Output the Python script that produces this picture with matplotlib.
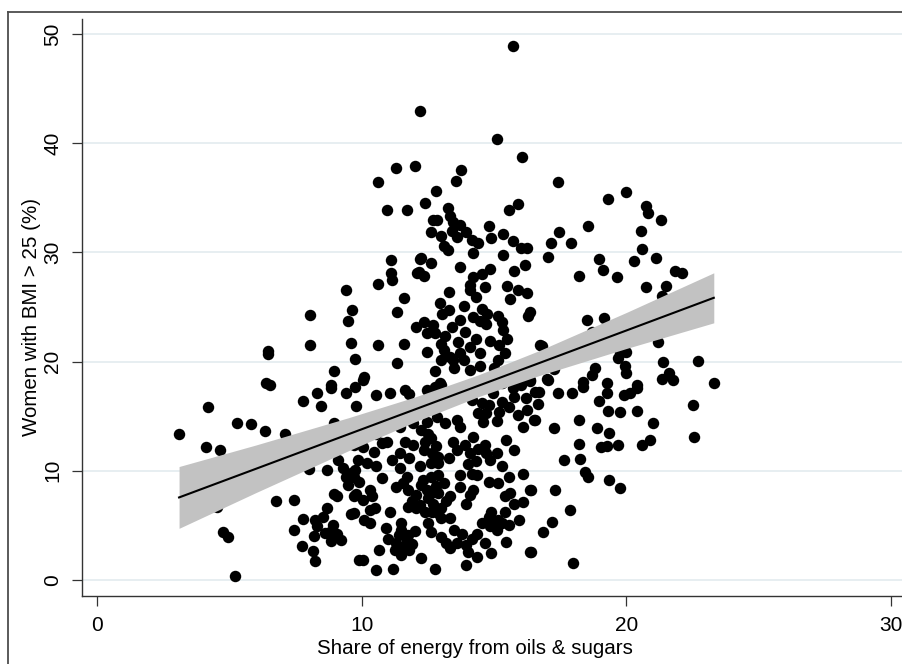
import matplotlib.pyplot as plt
from matplotlib.lines import Line2D

plt.rcParams['font.family'] = ['Liberation Sans', 'DejaVu Sans']

# (share of energy from oils & sugars, women with BMI > 25 %)
left_low = [
    (3.1, 13.4), (4.2, 15.8), (4.1, 12.2), (4.65, 11.9), (5.3, 14.35), (5.8, 14.25),
    (6.35, 13.6), (7.1, 13.4), (6.55, 17.9), (6.4, 18.0), (7.8, 16.4), (8.3, 17.15),
    (8.85, 17.55), (9.4, 17.1), (8.45, 15.9), (9.8, 15.9), (8.95, 14.35), (4.75, 4.4),
    (4.95, 3.9), (5.2, 0.4), (6.75, 7.2), (7.45, 7.35), (4.55, 6.7), (8.0, 10.2),
    (8.7, 10.1), (9.1, 11.0), (9.4, 9.45), (9.6, 9.8), (9.75, 10.1), (8.95, 7.9),
    (9.05, 7.7), (9.8, 7.9), (9.6, 6.0), (8.7, 6.6), (8.55, 5.8), (7.8, 5.55),
    (7.45, 4.6), (8.25, 5.5), (8.3, 4.9), (8.8, 4.4), (9.05, 4.2), (9.2, 3.65),
    (8.85, 3.6), (8.2, 4.0), (7.75, 3.15), (8.15, 2.7), (8.25, 1.75), (9.9, 1.85),
    (9.75, 17.7), (6.45, 21.0), (6.45, 20.7), (9.3, 10.3), (9.9, 9.0), (9.5, 8.7),
    (8.6, 4.3), (8.9, 5.0),
]

left_high = [
    (10.95, 33.9), (11.7, 33.9), (11.1, 29.3), (11.1, 28.1), (11.15, 27.5), (10.6, 27.1),
    (9.4, 26.6), (11.6, 25.85), (9.65, 24.7), (9.5, 23.75), (8.05, 24.3), (11.35, 24.5),
    (12.05, 23.2), (12.1, 28.1), (12.2, 29.4), (9.6, 21.7), (10.6, 21.5), (11.6, 21.65),
    (8.05, 21.5), (9.75, 20.2), (11.35, 19.9), (8.95, 19.1), (10.1, 18.6), (8.85, 17.9),
]

top = [
    (15.7, 48.9), (12.2, 42.9), (15.1, 40.4), (16.05, 38.7), (11.3, 37.7), (12.0, 37.9),
    (13.75, 37.5), (10.6, 36.4), (13.55, 36.5), (17.4, 36.4),
]

middle_high = [
    (12.8, 35.6), (12.4, 34.55), (13.25, 34.1), (12.7, 33.0), (12.85, 32.95), (13.35, 33.3),
    (13.45, 32.8), (13.7, 32.5), (13.4, 31.95), (13.95, 31.9), (14.15, 31.1), (14.4, 30.9),
    (14.8, 32.4), (14.9, 31.3), (15.35, 31.7), (15.7, 31.0), (15.55, 33.9), (15.9, 34.4),
    (17.45, 31.9), (17.15, 30.9), (17.05, 29.55), (16.0, 30.4), (16.25, 30.4), (16.15, 28.85),
    (15.75, 28.3), (15.35, 29.75), (14.2, 29.9), (13.1, 30.6), (13.25, 30.2), (12.25, 29.45),
    (12.6, 29.0), (12.15, 28.2), (12.35, 27.8), (13.7, 28.7), (14.85, 28.5), (14.55, 28.0),
    (14.2, 27.7), (14.1, 27.0), (14.65, 26.8), (15.5, 26.9), (15.9, 26.55), (16.25, 26.3),
    (15.6, 25.7), (14.1, 26.55), (14.3, 25.9), (13.3, 26.4), (12.95, 25.4), (13.85, 25.1),
    (13.05, 24.35), (14.55, 24.8), (14.75, 24.4), (15.15, 24.2), (14.2, 24.1), (14.45, 23.75),
    (14.7, 23.45), (15.3, 23.65), (16.35, 24.5), (16.3, 24.2), (15.35, 22.85), (12.35, 23.65),
    (12.7, 23.35), (12.45, 22.6), (12.75, 22.6), (13.15, 22.3), (12.45, 20.9), (13.0, 21.65),
    (13.1, 21.05), (13.65, 21.8), (13.35, 20.45), (13.7, 20.75), (13.85, 20.15), (13.45, 20.15),
    (14.3, 22.1), (14.85, 21.9), (15.2, 21.5), (14.45, 20.8), (15.15, 20.15), (13.0, 20.15),
    (12.75, 19.15), (14.45, 19.55), (16.75, 21.5), (12.95, 18.0), (16.35, 18.25), (17.0, 18.4),
    (13.4, 23.2), (13.7, 23.8), (13.9, 22.7), (14.1, 21.3), (13.5, 19.4), (14.1, 19.2),
    (15.0, 19.4), (15.4, 20.8), (15.5, 22.1), (13.3, 24.7), (13.0, 31.5), (12.6, 31.9),
    (13.6, 31.4),
]

right_high = [
    (19.3, 34.85), (20.0, 35.55), (20.75, 34.25), (20.8, 33.6), (21.3, 33.0), (18.55, 32.4),
    (17.9, 30.9), (20.55, 31.95), (20.6, 30.35), (21.1, 29.45), (20.3, 29.2), (18.95, 29.35),
    (19.1, 28.4), (19.65, 27.7), (18.2, 27.85), (21.85, 28.3), (22.1, 28.1), (20.75, 26.8),
    (21.5, 26.9), (21.35, 26.0), (18.5, 23.85), (19.15, 24.0), (18.7, 22.7), (16.8, 21.4),
    (21.2, 21.8), (19.75, 20.75), (20.0, 20.9), (19.7, 20.3), (21.4, 20.0), (22.7, 20.05),
    (19.95, 19.6), (20.0, 18.95), (18.8, 19.45), (18.7, 18.75), (18.35, 18.15), (19.25, 18.0),
    (21.35, 18.4), (21.6, 18.95), (21.75, 18.3), (23.3, 18.0), (20.4, 17.85), (17.25, 19.3),
    (17.05, 18.3),
]

right_low = [
    (22.5, 16.0), (22.55, 13.1), (21.0, 14.4), (20.9, 12.8), (20.6, 12.35), (20.4, 15.5),
    (19.7, 12.35), (19.25, 12.25), (19.05, 12.15), (19.35, 13.5), (18.9, 13.95), (19.3, 15.5),
    (19.75, 15.4), (18.95, 16.4), (19.25, 17.1), (19.9, 16.95), (20.15, 17.1), (20.4, 17.55),
    (18.2, 14.65), (18.2, 12.45), (18.25, 11.05), (18.45, 9.9), (18.55, 9.45), (19.35, 9.2),
    (19.75, 8.45), (17.65, 10.95), (17.25, 13.95), (16.7, 17.25), (17.4, 17.1), (17.95, 17.1),
    (18.35, 17.7), (16.65, 16.1), (16.5, 14.65), (17.3, 8.25), (16.4, 8.25), (17.85, 6.45),
    (17.2, 5.3), (16.85, 4.35), (16.4, 2.55), (18.0, 1.55),
]

middle_low = [
    (10.05, 18.3), (10.55, 16.95), (11.05, 17.15), (11.65, 17.4), (11.8, 17.05), (12.45, 17.4),
    (12.75, 17.7), (13.0, 17.85), (13.7, 17.1), (14.15, 16.5), (14.55, 16.2), (14.7, 15.25),
    (14.4, 15.25), (14.95, 17.1), (15.2, 15.4), (15.75, 16.8), (15.55, 15.85), (15.9, 15.1),
    (16.25, 15.55), (16.55, 14.65), (16.1, 14.05), (16.35, 18.3), (16.55, 17.25), (12.85, 14.95),
    (13.15, 14.35), (13.6, 14.65), (12.45, 14.5), (13.7, 14.05), (14.2, 13.1), (13.45, 12.65),
    (13.6, 11.9), (14.1, 11.6), (14.65, 12.35), (14.7, 11.6), (14.85, 11.0), (15.45, 12.8),
    (15.75, 11.9), (11.65, 12.65), (11.95, 12.35), (12.35, 11.9), (12.65, 11.6), (11.8, 11.15),
    (12.6, 10.7), (12.9, 10.7), (11.45, 11.6), (11.15, 11.0), (10.75, 12.5), (10.95, 12.65),
    (10.45, 11.75), (10.05, 12.2), (9.7, 12.35), (9.85, 11.0), (10.2, 10.7), (10.55, 10.4),
    (9.7, 9.45), (10.75, 9.3), (11.45, 10.25), (11.7, 9.45), (12.6, 9.45), (12.9, 9.6),
    (13.7, 9.6), (14.15, 9.75), (13.7, 8.55), (14.35, 9.6), (14.8, 9.0), (15.15, 8.85),
    (15.55, 9.45), (16.1, 9.75), (16.35, 8.25), (12.25, 8.7), (12.45, 8.25), (11.3, 8.55),
    (11.55, 8.85), (11.75, 8.25), (10.05, 7.35), (10.3, 8.25), (10.4, 7.65), (12.05, 7.8),
    (12.2, 6.85), (12.5, 7.5), (12.7, 7.0), (12.9, 7.95), (13.35, 7.65), (11.75, 6.7),
    (12.05, 6.55), (12.4, 6.25), (12.65, 6.25), (14.1, 7.8), (14.2, 8.25), (13.95, 7.0),
    (15.4, 7.65), (15.6, 7.95), (15.75, 7.0), (16.1, 7.15), (15.4, 6.25), (15.15, 5.5),
    (9.7, 6.1), (10.3, 6.4), (10.5, 6.55), (10.1, 5.5), (10.3, 5.2), (12.5, 5.2),
    (12.6, 4.4), (13.0, 5.65), (13.35, 5.65), (10.9, 4.75), (11.0, 3.8), (11.5, 4.6),
    (11.75, 4.1), (11.3, 3.35), (11.55, 3.05), (11.25, 2.75), (11.8, 2.75), (11.5, 2.3),
    (10.65, 2.75), (10.05, 1.85), (10.55, 0.9), (11.2, 1.0), (12.25, 2.0), (12.75, 1.0),
    (13.0, 3.95), (13.2, 3.35), (13.6, 3.35), (13.95, 3.2), (13.35, 2.9), (14.15, 3.8),
    (14.35, 4.25), (14.55, 5.2), (14.85, 4.9), (15.1, 4.6), (14.65, 3.35), (14.9, 2.45),
    (14.35, 2.15), (13.95, 1.35), (15.45, 3.5), (16.35, 2.6), (15.95, 5.5), (15.55, 5.05),
    (11.05, 6.25), (11.5, 5.2), (9.7, 7.65), (10.1, 13.7), (10.55, 13.4), (11.45, 14.05),
    (10.9, 14.5), (11.95, 14.35), (12.25, 13.75), (12.6, 13.0),
]

middle_dense = [
    (12.8, 8.6), (13.1, 8.9), (12.3, 9.2), (13.0, 6.6), (12.9, 6.1), (13.2, 7.2),
    (12.6, 8.0), (11.9, 7.2), (11.7, 3.6), (11.9, 3.3), (11.4, 4.1), (12.0, 4.5),
    (13.8, 4.2), (13.5, 4.6), (14.0, 2.6), (14.8, 5.8), (15.3, 5.2), (14.9, 6.2),
    (12.4, 12.6), (12.8, 12.3), (12.5, 13.4), (12.2, 10.4), (12.9, 11.3), (13.3, 11.2),
    (13.9, 12.4), (14.4, 12.0), (14.3, 10.9), (14.0, 10.6), (15.1, 11.6), (15.3, 10.4),
    (14.8, 16.0), (15.1, 14.6), (15.3, 16.3), (14.6, 14.5), (15.3, 18.0), (15.7, 17.6),
    (16.0, 17.9), (16.2, 16.7),
]

# linear fit with 95% CI band
fit_x = [3.1, 6.0, 9.5, 12.0, 14.4, 16.7, 20.0, 23.3]
fit_y = [7.56, 10.18, 13.35, 15.61, 17.78, 19.86, 22.85, 25.84]
ci_lo = [4.73, 8.0, 11.84, 14.47, 16.78, 18.72, 21.2, 23.55]
ci_hi = [10.39, 12.36, 14.86, 16.75, 18.78, 21.0, 24.5, 28.13]

groups = [left_low, left_high, top, middle_high, right_high, right_low, middle_low, middle_dense]
share = [p[0] for g in groups for p in g]
bmi = [p[1] for g in groups for p in g]

fig = plt.figure(figsize=(9.02, 6.64), dpi=100)
ax = fig.add_axes([82 / 902, 68 / 664, 1 - 82 / 902, (596 - 19) / 664])
ax.set_xlim(-0.567, 30.41)
ax.set_ylim(-1.465, 51.37)

ax.scatter(share, bmi, s=68, color='black', linewidths=0, zorder=2)
ax.fill_between(fit_x, ci_lo, ci_hi, color='#c2c2c2', linewidth=0, zorder=3)
ax.plot(fit_x, fit_y, color='black', lw=1.5, zorder=4)

ax.set_xticks([0, 10, 20, 30])
ax.set_yticks([0, 10, 20, 30, 40, 50])
ax.yaxis.grid(True, color='#e7eef1', lw=1.4)
ax.set_axisbelow(True)

for s in ['top', 'right']:
    ax.spines[s].set_visible(False)
for s in ['left', 'bottom']:
    ax.spines[s].set_color('#333333')
    ax.spines[s].set_linewidth(1.0)

ax.tick_params(length=7.2, width=0.9, color='#333333', pad=7, labelsize=15)
ax.tick_params(axis='y', labelrotation=90)
for lbl in ax.get_yticklabels():
    lbl.set_va('center')

fig.text(475 / 902, 1 - 648 / 664, 'Share of energy from oils & sugars',
         ha='center', va='center', fontsize=14.8)
fig.text(32 / 902, 1 - 317 / 664, 'Women with BMI > 25 (%)',
         ha='center', va='center', rotation=90, fontsize=14.8)

# outer graph border (only the top-left part is in frame)
fig.add_artist(Line2D([8 / 902, 8 / 902], [0, 1 - 12 / 664], transform=fig.transFigure,
                      color='#4d4d4d', lw=1.3))
fig.add_artist(Line2D([8 / 902, 1], [1 - 12 / 664, 1 - 12 / 664], transform=fig.transFigure,
                      color='#4d4d4d', lw=1.3))

fig.savefig('out.png', dpi=100)
